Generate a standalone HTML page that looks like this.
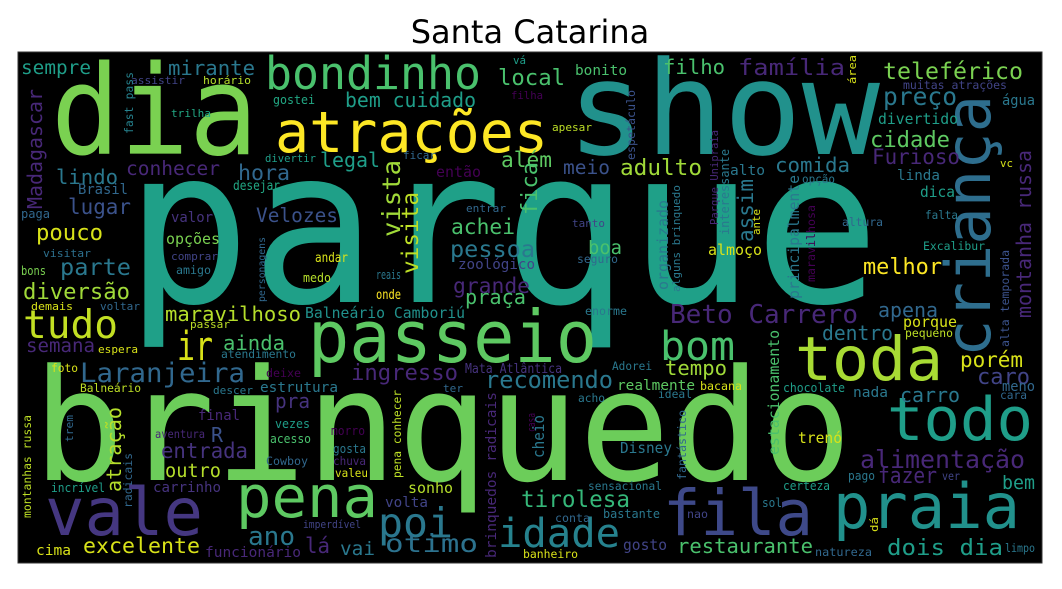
<!DOCTYPE html>
<html><head><meta charset="utf-8">
<style>
html,body{margin:0;padding:0;background:#fff;}
svg{display:block;}
</style></head>
<body>
<svg id="wc" width="1062" height="589" viewBox="0 0 1062 589" xmlns="http://www.w3.org/2000/svg">
  <rect x="0" y="0" width="1062" height="589" fill="#fff"/>
  <text x="530" y="43" text-anchor="middle" font-family="DejaVu Sans, Liberation Sans, sans-serif" font-size="32" fill="#000">Santa Catarina</text>
  <rect x="18" y="52" width="1024" height="511" fill="#000" stroke="#333" stroke-width="1"/>
  <g id="words"></g>
</svg>
<script>
// [word, x, baselineY, fontSize, color, rotated, visibleWidth]
const words = [
["parque",125,302,216,"#1fa088",0,755],
["brinquedo",33,480,155,"#6ccd5a",0,819],
["dia",51,154,124,"#7ad151",0,207],
["show",567,154,130,"#21918c",0,313],
["atrações",275,152,57,"#fde725",0,273],
["bondinho",265,89,45,"#4ac16d",0,216],
["criança",990,357,62,"#2e6e8e",1,262],
["montanha russa",1031,318,20,"#482878",1,168],
["alta temporada",1009,347,11.5,"#3b528b",1,97],
["sempre",21,74,19,"#1f9e89",0,70],
["mirante",168,75,20,"#2a788e",0,87],
["assistir",131,84,11,"#414487",0,54],
["fast pass",133,134,11.5,"#26828e",1,62],
["horário",203,84,11,"#b5de2b",0,48],
["vá",513,64,11,"#1f9e89",0,13],
["local",498,85,22,"#4ac16d",0,67],
["gostei",273,104,12,"#22a884",0,42],
["bem cuidado",345,107,20,"#1f9e89",0,131],
["filha",511,99,11,"#440154",0,32],
["trilha",171,117,11,"#22a884",0,40],
["Madagascar",42,209,20,"#482878",1,120],
["divertir",265,162,11,"#1f9e89",0,51],
["ficar",403,159,11,"#31688e",0,33],
["legal",320,167,20,"#1f9e89",0,60],
["além",501,167,21,"#5ec962",0,51],
["conhecer",126,175,19.5,"#482878",0,94],
["lindo",56,184,20.5,"#2a788e",0,62],
["hora",238,180,21,"#31688e",0,52],
["então",436,177,15,"#440154",0,45],
["vista",400,237,25,"#a0da39",1,77],
["visita",418,274,22.7,"#bddf26",1,82],
["fica",537,215,22,"#4ac16d",1,53],
["Brasil",78,194,14,"#31688e",0,50],
["desejar",233,190,13,"#22a884",0,47],
["lugar",68,214,21,"#3b528b",0,63],
["paga",21,218,12,"#31688e",0,29],
["Velozes",256,222,19.5,"#3b528b",0,82],
["valor",171,222,14,"#46337e",0,42],
["entrar",466,212,11,"#31688e",0,40],
["achei",451,234,21,"#4ac16d",0,64],
["pouco",36,240,22,"#d8e219",0,67],
["opções",166,244,15,"#7ad151",0,54],
["personagens",265,302,10,"#31688e",1,65],
["pessoa",450,257,23.5,"#2a788e",0,85],
["visitar",43,257,11,"#2d708e",0,48],
["comprar",171,260,11,"#414487",0,47],
["zoológico",458,269,14,"#414487",0,77],
["parte",60,275,23.5,"#2a788e",0,71],
["andar",315,262,13,"#d8e219",0,33],
["amigo",176,274,11.5,"#2a788e",0,35],
["bons",21,275,12,"#7ad151",0,25],
["grande",453,293,21,"#482878",0,77],
["reais",376,279,12,"#2a788e",0,25],
["medo",303,282,12,"#b5de2b",0,28],
["diversão",23,299,22,"#a0da39",0,107],
["onde",376,299,13,"#fde725",0,25],
["praça",465,304,20,"#4ac16d",0,61],
["demais",31,310,11,"#d8e219",0,42],
["voltar",100,310,11,"#31688e",0,40],
["maravilhoso",165,321,20.5,"#b5de2b",0,136],
["Balneário Camboriú",305,318,14.7,"#21918c",0,160],
["tudo",23,338,39,"#c2df23",0,95],
["passar",190,328,11,"#bddf26",0,40],
["ir",177,360,40,"#d8e219",0,36],
["ainda",223,350,20.5,"#4ac16d",0,62],
["semana",26,352,19,"#482878",0,69],
["espera",98,353,11,"#d8e219",0,40],
["atendimento",221,358,11.5,"#2a788e",0,75],
["passeio",308,362,72,"#5ec962",0,289],
["Laranjeira",80,382,27,"#31688e",0,165],
["foto",51,372,11.5,"#d8e219",0,27],
["deixe",266,377,11.5,"#440154",0,35],
["ingresso",351,380,22,"#482878",0,107],
["Mata Atlântica",465,373,13.5,"#46337e",0,97],
["Balneário",80,392,11.5,"#bddf26",0,61],
["descer",213,394,11,"#2a788e",0,40],
["estrutura",260,392,14.5,"#2a788e",0,78],
["ter",443,392,11,"#31688e",0,20],
["recomendo",485,388,23.6,"#2a788e",0,128],
["atração",121,492,20,"#b5de2b",1,85],
["pra",275,408,20,"#46337e",0,35],
["final",198,420,14,"#482878",0,42],
["montanhas russa",31,518,11.4,"#bddf26",1,103],
["trem",73,442,11,"#31688e",1,27],
["aventura",155,438,11.5,"#482878",0,50],
["R",211,442,20,"#3b528b",0,12],
["vezes",275,428,12,"#1f9e89",0,35],
["morro",331,435,12,"#440154",0,34],
["acesso",270,443,12,"#4ac16d",0,41],
["entrada",161,458,21,"#46337e",0,87],
["gosta",333,453,12,"#2a788e",0,33],
["pena conhecer",401,478,11.3,"#bddf26",1,88],
["brinquedos radicais",496,558,14.5,"#482878",1,166],
["casa",535,432,11,"#440154",1,19],
["cheio",544,458,16,"#2a788e",1,43],
["Cowboy",266,465,11.5,"#31688e",0,42],
["chuva",333,465,11.5,"#482878",0,33],
["outro",165,477,19,"#b5de2b",0,56],
["valeu",335,477,11.5,"#d8e219",0,33],
["incrível",51,492,12,"#1f9e89",0,54],
["carrinho",153,492,14,"#46337e",0,68],
["radicais",132,508,11.4,"#31688e",1,55],
["sonho",408,493,15,"#b5de2b",0,45],
["vale",45,535,66,"#453781",0,158],
["pena",236,517,58,"#5ec962",0,142],
["volta",385,507,14,"#414487",0,43],
["poi",378,537,41,"#2a788e",0,75],
["imperdível",303,528,11,"#414487",0,58],
["ano",248,545,26,"#2a788e",0,47],
["excelente",83,553,21.5,"#d8e219",0,117],
["cima",36,555,14,"#d8e219",0,35],
["lá",305,553,21,"#482878",0,25],
["vai",340,555,19,"#2a788e",0,35],
["funcionário",205,557,14.5,"#482878",0,96],
["ótimo",385,552,25,"#2c728e",0,93],
["idade",498,547,40,"#26828e",0,122],
["banheiro",523,558,11.5,"#d8e219",0,55],
["tirolesa",521,507,22.8,"#35b779",0,109],
["sensacional",588,490,11.5,"#2a788e",0,74],
["conta",555,522,11.5,"#31688e",0,35],
["bastante",603,518,12,"#2a788e",0,57],
["nao",687,518,11.5,"#414487",0,21],
["gosto",623,550,15,"#414487",0,44],
["restaurante",677,553,20.5,"#4ac16d",0,136],
["fila",663,535,63,"#3e4989",0,150],
["praia",833,528,62,"#21918c",0,187],
["certeza",783,490,12,"#1f9e89",0,47],
["sol",762,507,12,"#2a788e",0,20],
["dá",878,532,11,"#d8e219",1,15],
["natureza",815,556,11.5,"#31688e",0,57],
["dois dia",887,555,22,"#1f9e89",0,116],
["limpo",1005,552,11.5,"#2a788e",0,30],
["pago",848,480,12,"#2a788e",0,27],
["fazer",878,483,22,"#482878",0,59],
["ver",942,480,11.5,"#414487",0,18],
["bem",1002,489,19,"#1f9e89",0,33],
["alimentação",860,468,25,"#482878",0,165],
["todo",887,440,60,"#1f9e89",0,146],
["trenó",798,443,15,"#d8e219",0,44],
["Disney",620,453,15.5,"#2a788e",0,52],
["fantástico",686,480,11.6,"#31688e",1,70],
["estacionamento",779,455,14.8,"#4ac16d",1,125],
["chocolate",783,392,12,"#1f9e89",0,62],
["nada",853,397,14.5,"#2a788e",0,35],
["carro",900,402,20,"#2a788e",0,60],
["caro",977,384,22,"#414487",0,53],
["meno",1002,391,14.5,"#31688e",0,33],
["cara",1000,399,11.5,"#31688e",0,27],
["porém",960,367,21,"#d8e219",0,63],
["toda",795,380,61,"#a8db34",0,148],
["dentro",822,340,20,"#2a788e",0,71],
["apena",878,317,20,"#31688e",0,60],
["porque",903,327,15,"#d8e219",0,54],
["pequeno",905,337,11.5,"#bddf26",0,48],
["Beto Carrero",670,323,26,"#482878",0,188],
["enorme",585,315,11.5,"#2a788e",0,42],
["bom",660,360,40,"#4ac16d",0,75],
["tempo",665,375,20.5,"#a0da39",0,62],
["Adorei",612,370,11.5,"#2a788e",0,40],
["realmente",617,390,14.5,"#5ec962",0,78],
["bacana",700,390,11.5,"#d8e219",0,42],
["ideal",658,398,11.5,"#2a788e",0,34],
["acho",578,402,11.5,"#2a788e",0,27],
["bonito",575,75,14.5,"#4ac16d",0,52],
["filho",663,74,20.5,"#4ac16d",0,62],
["família",738,75,22,"#482878",0,107],
["área",856,84,11,"#d8e219",1,29],
["teleférico",883,79,23,"#7ad151",0,140],
["muitas atrações",903,89,11.5,"#414487",0,104],
["preço",883,105,24.5,"#2a788e",0,74],
["água",1002,105,14.5,"#2a788e",0,33],
["apesar",552,131,11,"#bddf26",0,40],
["espetáculo",635,160,11.6,"#3b528b",1,70],
["divertido",878,124,14.7,"#1f9e89",0,80],
["cidade",870,147,22,"#5ec962",0,80],
["Furioso",872,164,21,"#482878",0,88],
["meio",563,174,19.5,"#3b528b",0,47],
["adulto",620,175,22.5,"#a0da39",0,82],
["comida",775,172,20.5,"#2a788e",0,75],
["alto",730,175,14.5,"#2a788e",0,35],
["linda",897,180,14.5,"#2a788e",0,43],
["vc",1000,167,11,"#d8e219",0,13],
["opção",802,183,11.5,"#2a788e",0,33],
["Parque Unipraia",718,225,11,"#482878",1,95],
["interessante",729,235,12,"#2a788e",1,86],
["assim",753,242,21,"#2a788e",1,63],
["principalmente",799,299,14.7,"#2a788e",1,124],
["maravilhosa",815,282,11.6,"#440154",1,77],
["organizado",668,290,15,"#2a788e",1,90],
["alguns brinquedo",680,292,11,"#2a788e",1,107],
["ante",760,235,11,"#d8e219",1,26],
["tanto",572,227,11,"#414487",0,33],
["seguro",577,263,11.5,"#31688e",0,41],
["boa",588,254,19,"#4ac16d",0,34],
["almoço",708,255,15,"#d8e219",0,54],
["altura",842,226,11.5,"#31688e",0,41],
["falta",925,219,11.5,"#2a788e",0,33],
["dica",920,197,15,"#1f9e89",0,35],
["melhor",863,274,22,"#fde725",0,79],
["Excalibur",923,250,11.5,"#1f9e89",0,62]
];

const NS = "http://www.w3.org/2000/svg";
const g = document.getElementById("words");
function slug(s){return s.normalize("NFD").replace(/[\u0300-\u036f]/g,"").toLowerCase().replace(/[^a-z0-9]+/g,"-");}
words.forEach(function(w){
  const t = document.createElementNS(NS, "text");
  
  
  t.setAttribute("x", w[1]);
  t.setAttribute("y", w[2]);
  t.setAttribute("font-family", "DejaVu Sans Mono, Liberation Mono, monospace");
  t.setAttribute("font-size", w[3]);
  t.setAttribute("fill", w[4]);
  t.setAttribute("textLength", w[6]);
  t.setAttribute("lengthAdjust", "spacingAndGlyphs");
  if (w[5]) t.setAttribute("transform", "rotate(-90 " + w[1] + " " + w[2] + ")");
  t.textContent = w[0];
  g.appendChild(t);
});
</script>
</body></html>
